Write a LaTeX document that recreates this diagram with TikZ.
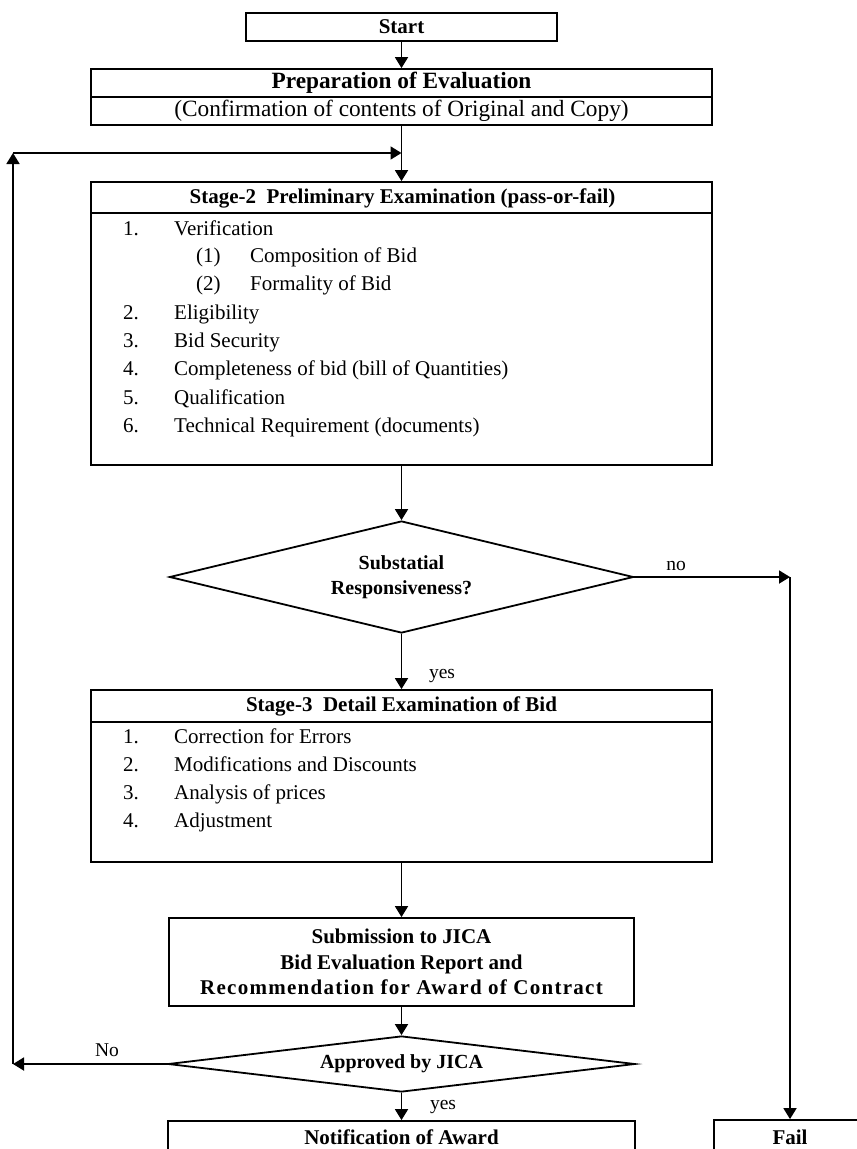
\documentclass[tikz,border=0pt]{standalone}
\usepackage{fontspec}
\setmainfont{Liberation Serif}
\usetikzlibrary{shapes.geometric,arrows.meta}
\begin{document}
\begin{tikzpicture}[x=1pt,y=-1pt,
  box/.style={draw,line width=1.8pt,rectangle,inner sep=0pt},
  dia/.style={draw,line width=1.8pt,diamond,inner sep=0pt,align=center,
    font=\fontsize{20}{25}\selectfont\bfseries},
  conn/.style={line width=1.8pt},
  arr/.style={conn,-{Triangle[length=11pt,width=13pt]}},
  hd/.style={font=\fontsize{21}{25.5}\selectfont\bfseries,inner sep=0pt,align=center},
  tx/.style={font=\fontsize{21}{25}\selectfont,inner sep=0pt,anchor=base west},
  lbl/.style={font=\fontsize{19.5}{23}\selectfont,inner sep=0pt},
]
\useasboundingbox (0,0) rectangle (857,1149);
\clip (0,0) rectangle (857,1149);

% Start
\node[box,minimum width=311pt,minimum height=28pt,hd] (start) at (401.5,27) {Start};

% Preparation
\node[box,minimum width=621pt,minimum height=56pt] (prep) at (401.5,97) {};
\draw[conn] (prep.west |- 0,97) -- (prep.east |- 0,97);
\node[font=\fontsize{23.3}{27}\selectfont\bfseries,inner sep=0pt] (preptitle) at (401.5,83) {Preparation of Evaluation};
\node[font=\fontsize{23.3}{27}\selectfont,inner sep=0pt] (prepsub) at (401.5,111) {(Confirmation of contents of Original and Copy)};

% Stage-2
\node[box,minimum width=621pt,minimum height=283pt] (s2) at (401.5,323.5) {};
\draw[conn] (s2.west |- 0,213) -- (s2.east |- 0,213);
\node[hd] (s2title) at (402.5,198) {Stage-2\ \ Preliminary Examination (pass-or-fail)};
\node[tx] (s2n1) at (123,235) {1.};
\node[tx] (s2t1) at (174,235) {Verification};
\node[tx] (s2n1a) at (196,262) {(1)};
\node[tx] (s2t1a) at (250,262) {Composition of Bid};
\node[tx] (s2n1b) at (196,290) {(2)};
\node[tx] (s2t1b) at (250,290) {Formality of Bid};
\node[tx] (s2n2) at (123,319) {2.};
\node[tx] (s2t2) at (174,319) {Eligibility};
\node[tx] (s2n3) at (123,347) {3.};
\node[tx] (s2t3) at (174,347) {Bid Security};
\node[tx] (s2n4) at (123,375) {4.};
\node[tx] (s2t4) at (174,375) {Completeness of bid (bill of Quantities)};
\node[tx] (s2n5) at (123,404) {5.};
\node[tx] (s2t5) at (174,404) {Qualification};
\node[tx] (s2n6) at (123,432) {6.};
\node[tx] (s2t6) at (174,432) {Technical Requirement (documents)};

% Decision 1
\node[dia,minimum width=464pt,minimum height=112pt,aspect=4.1] (d1) at (401.5,577) {Substatial\\Responsiveness?};

% Stage-3
\node[box,minimum width=621pt,minimum height=172pt] (s3) at (401.5,776) {};
\draw[conn] (s3.west |- 0,722) -- (s3.east |- 0,722);
\node[hd] (s3title) at (401.5,706) {Stage-3\ \ Detail Examination of Bid};
\node[tx] (s3n1) at (123,743) {1.};
\node[tx] (s3t1) at (174,743) {Correction for Errors};
\node[tx] (s3n2) at (123,771) {2.};
\node[tx] (s3t2) at (174,771) {Modifications and Discounts};
\node[tx] (s3n3) at (123,799) {3.};
\node[tx] (s3t3) at (174,799) {Analysis of prices};
\node[tx] (s3n4) at (123,827) {4.};
\node[tx] (s3t4) at (174,827) {Adjustment};

% Submission
\node[box,minimum width=465pt,minimum height=88pt,hd] (sub) at (401.5,962) {Submission to JICA\\Bid Evaluation Report and\\{\addfontfeature{LetterSpace=6}Recommendation for Award of Contract}};

% Decision 2
\node[dia,minimum width=467pt,minimum height=56pt,aspect=8] (jica) at (401.5,1064) {Approved by JICA};

% Final boxes
\node[box,minimum width=467pt,minimum height=60pt] (notif) at (401.5,1151) {};
\node[hd] (notiftext) at (401.5,1137) {Notification of Award};
\node[box,minimum width=152pt,minimum height=60pt] (fail) at (790,1150) {};
\node[hd] (failtext) at (790,1137) {Fail};

% Connector helper points
\coordinate (jn) at (401.5,153);
\coordinate (lt) at (13,153);
\coordinate (lb) at (13,1064);
\coordinate (nr) at (790,577);

% Connectors
\draw[arr] (start) -- (prep);
\draw[conn] (prep.south) -- (jn);
\draw[arr] (jn) -- (s2.north);
\draw[arr] (lt) -- (jn);
\draw[arr] (lb) -- (lt);
\draw[arr] (jica.west) -- (lb);
\draw[arr] (s2) -- (d1);
\draw[arr] (d1) -- (s3);
\draw[arr] (d1.east) -- (nr);
\draw[arr] (nr) -- (fail.north);
\draw[arr] (s3) -- (sub);
\draw[arr] (sub) -- (jica);
\draw[arr] (jica) -- (notif);

% Labels
\node[lbl] (lno) at (676,566) {no};
\node[lbl] (lyes1) at (442,676) {yes};
\node[lbl] (lyes2) at (443,1107) {yes};
\node[lbl] (lNo) at (107,1050) {No};
\end{tikzpicture}
\end{document}
